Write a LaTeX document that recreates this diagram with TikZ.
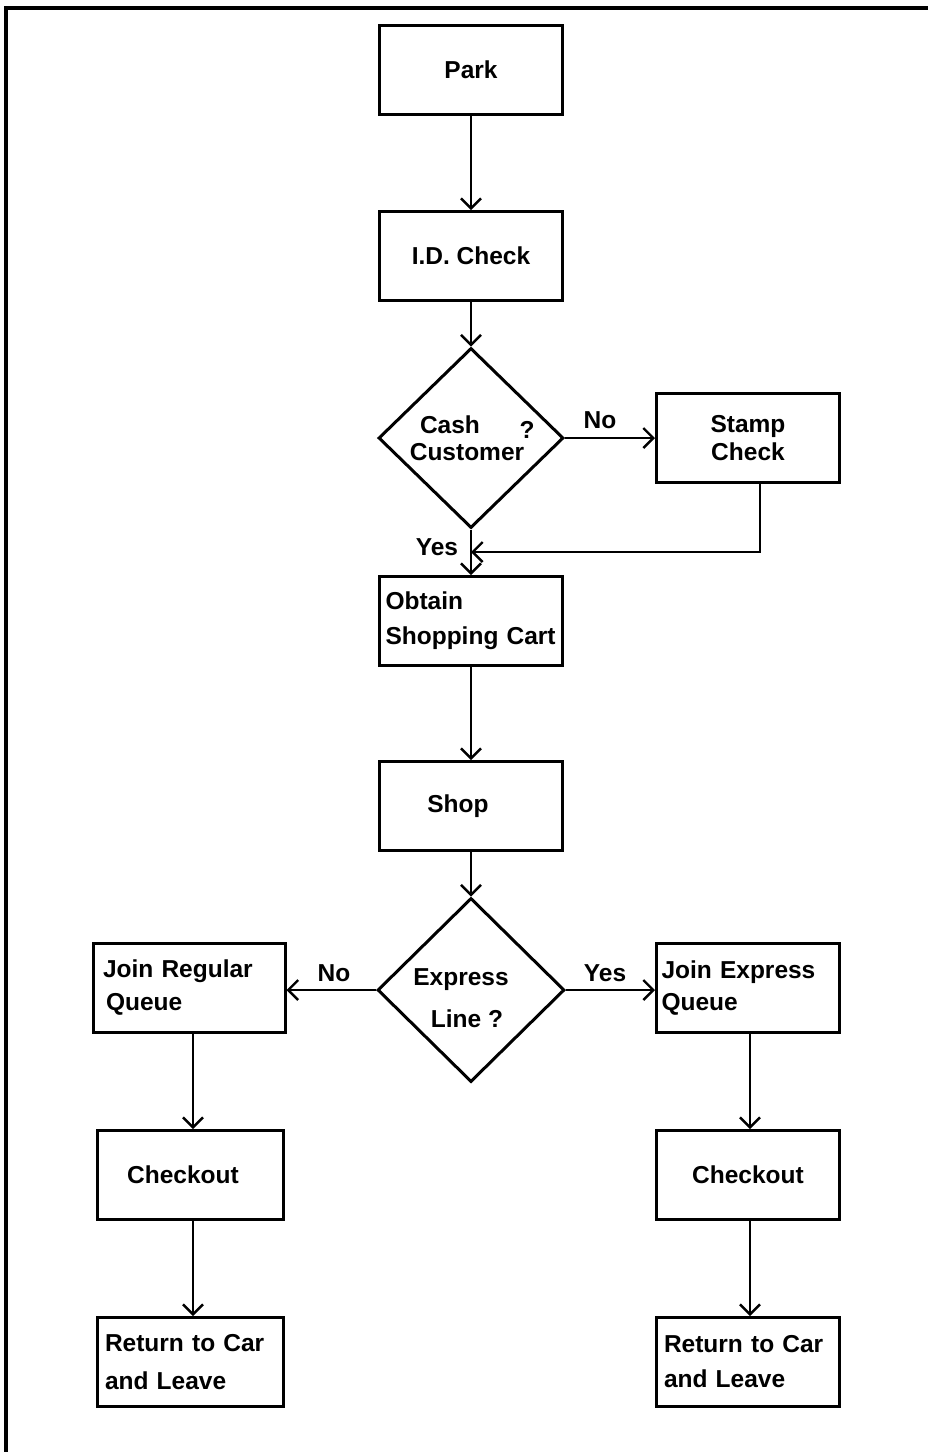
\documentclass[tikz,border=0pt]{standalone}
\usepackage{fontspec}
\setmainfont{Liberation Sans}
\usetikzlibrary{shapes.geometric,arrows.meta}
\begin{document}
\begin{tikzpicture}[x=1pt,y=-1pt,
  every node/.style={font=\fontsize{24.5}{35}\selectfont\bfseries},
  box/.style={draw,line width=3pt,minimum width=183pt,minimum height=89pt,inner sep=0pt,align=center},
  lbox/.style={box,align=left,text width=165pt},
  dia/.style={draw,diamond,line width=3pt,inner sep=0pt},
  lbl/.style={inner sep=0pt},
  arr/.style={line width=2.8pt,-{Straight Barb[length=10pt,width=20pt,line width=2.4pt]}}]
\useasboundingbox (0,0) rectangle (928,1452);
\fill[white] (0,0) rectangle (928,1452);
% frame
\draw[line width=3.2pt] (6,1452) -- (6,8) -- (928,8);
% nodes
\node[box] (park) at (471,70) {Park};
\node[box] (id) at (471,256) {I.D. Check};
\node[dia,minimum width=185pt,minimum height=180pt] (cash) at (471,438) {};
\node[lbl] (cashA) at (450,425) {Cash};
\node[lbl] (cashB) at (467,452) {Customer};
\node[lbl] (cashQ) at (527,430) {?};
\node[box,font=\fontsize{24.5}{28}\selectfont\bfseries] (stamp) at (748,438) {Stamp\\Check};
\node[lbox,text width=171pt] (cart) at (471,621) {Obtain\\Shopping Cart};
\node[box] (shop) at (471,806) {Shop\hspace{26pt}\mbox{}};
\node[dia,minimum width=187pt,minimum height=184pt] (exp) at (471,990) {};
\node[lbl] (expA) at (461,980) {Express};
\node[lbl] (expB) at (467,1019) {Line ?};
\node[lbox,minimum width=192pt,text width=172pt,font=\fontsize{24.5}{33}\selectfont\bfseries] (reg) at (189,988) {Join Regular\\\hspace*{3pt}Queue};
\node[lbox,text width=173pt,font=\fontsize{24.5}{32}\selectfont\bfseries] (expq) at (748,988) {Join Express\\Queue};
\node[box,minimum width=186pt] (chkL) at (190,1175) {Checkout\hspace{14pt}\mbox{}};
\node[box] (chkR) at (748,1175) {Checkout};
\node[lbox,minimum width=186pt,text width=170pt,font=\fontsize{24.5}{38}\selectfont\bfseries] (retL) at (190,1362) {Return to Car\\and Leave};
\node[lbox,text width=168pt] (retR) at (748,1362) {Return to Car\\and Leave};
% labels
\node[lbl] (noA) at (600,420) {No};
\node[lbl] (yesA) at (437,547) {Yes};
\node[lbl] (noB) at (334,973) {No};
\node[lbl] (yesB) at (605,973) {Yes};
\coordinate (merge) at (471,552);
% connectors
\draw[arr] (park.south) -- (id.north);
\draw[arr] (id.south) -- (cash.north);
\draw[arr] (cash.east) -- (cash.east -| stamp.west);
\draw[arr] (cash.south) -- (cart.north);
\draw[arr] (stamp.south -| 760,0) |- (merge);
\draw[arr] (cart.south) -- (shop.north);
\draw[arr] (shop.south) -- (exp.north);
\draw[arr] (exp.west) -- (exp.west -| reg.east);
\draw[arr] (exp.east) -- (exp.east -| expq.west);
\draw[arr] (reg.south -| 193,0) -- (chkL.north -| 193,0);
\draw[arr] (chkL.south -| 193,0) -- (retL.north -| 193,0);
\draw[arr] (expq.south -| 750,0) -- (chkR.north -| 750,0);
\draw[arr] (chkR.south -| 750,0) -- (retR.north -| 750,0);
\end{tikzpicture}
\end{document}
